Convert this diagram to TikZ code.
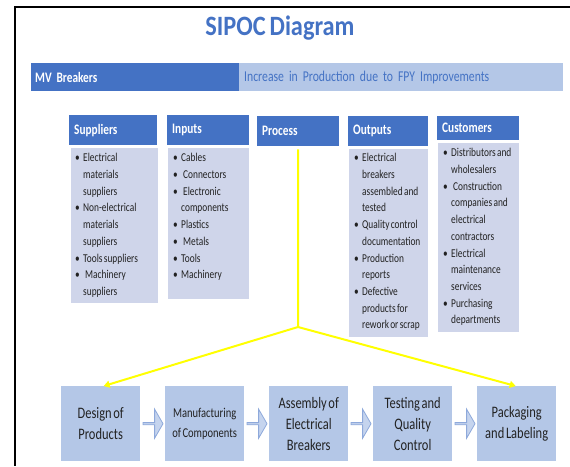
\documentclass[tikz,border=0pt]{standalone}
\usepackage{fontspec}
\setmainfont{Carlito}[FakeStretch=0.78, WordSpace={0.6,0.5,0.6}]
\newfontfamily\titlefont{Carlito}[FakeStretch=0.87, WordSpace={0.7,0.5,0.7}]
\usetikzlibrary{shapes.arrows,arrows.meta,calc}
\definecolor{hdblue}{HTML}{4472C4}
\definecolor{barlight}{HTML}{B4C7E7}
\definecolor{listbg}{HTML}{CFD5EA}
\definecolor{txt}{HTML}{222222}
\definecolor{arrowedge}{HTML}{8EA9DB}
\definecolor{arrowfill}{HTML}{C5D4EE}
\definecolor{flowyellow}{HTML}{FFFF00}

% bullet and continuation indent for the list columns
\newcommand{\bul}{\makebox[8pt][l]{\textbullet}}
\newcommand{\ind}{\hspace*{8pt}}

\begin{document}
\begin{tikzpicture}[x=1pt,y=-1pt,
  colhead/.style={fill=hdblue, text=white, font=\fontsize{14.5}{16}\selectfont\bfseries,
    anchor=north west, inner xsep=5pt, inner ysep=0pt, minimum height=30pt, align=left},
  listbox/.style={fill=listbg, draw=white, line width=0.8pt, anchor=north west,
    inner sep=0pt},
  listtext/.style={anchor=north west, inner sep=0pt, align=left, text=txt,
    font=\fontsize{12}{16.7}\selectfont},
  procbox/.style={fill=barlight, anchor=north west, inner sep=2pt, align=center,
    minimum width=79pt, minimum height=75pt, text=txt,
    font=\fontsize{16}{21}\selectfont},
  blockarrow/.style={single arrow, draw=arrowedge, fill=arrowfill, line width=0.8pt,
    inner sep=0pt, minimum height=20pt, minimum width=29pt,
    single arrow head extend=5pt, single arrow tip angle=120},
  yline/.style={draw=flowyellow, line width=2pt},
]
\useasboundingbox (0,0) rectangle (570,466);

% page frame
\draw[line width=1.5pt] (570,7) -- (15,7) -- (15,466);

% title
\node[font=\titlefont\fontsize{28}{30}\selectfont\bfseries, text=hdblue] (title) at (280,28) {SIPOC Diagram};

% project bar
\node[fill=hdblue, text=white, anchor=north west, inner xsep=4pt, inner ysep=0pt,
  minimum height=28pt, text width=200pt, align=left,
  font=\fontsize{14.5}{16}\selectfont\bfseries] (mv) at (31,63) {MV Breakers};
\node[fill=barlight, text=hdblue, anchor=north west, inner xsep=5pt, inner ysep=0pt,
  minimum height=28pt, text width=314pt, align=left,
  font=\fontsize{15}{16}\selectfont] (goal) at (239,63) {Increase in Production due to FPY Improvements};

% column headers
\node[colhead, text width=78pt] (sup) at (69,115) {Suppliers};
\node[colhead, text width=72pt] (inp) at (167,115) {Inputs};
\node[colhead, text width=72pt] (proc) at (257,116) {Process};
\node[colhead, text width=70pt] (outp) at (348,116) {Outputs};
\node[colhead, text width=72pt, minimum height=24pt] (cust) at (437,116) {Customers};

% column bodies
\node[listbox, minimum width=88pt, minimum height=156pt] (supb) at (70,147) {};
\node[listbox, minimum width=82pt, minimum height=152pt] (inpb) at (167,147) {};
\node[listbox, minimum width=80pt, minimum height=189pt] (outb) at (348,148) {};
\node[listbox, minimum width=82pt, minimum height=190pt] (cusb) at (437,142) {};

\node[listtext] (supl) at (75,150) {\strut\bul Electrical\\ \ind materials\\ \ind suppliers\\
  \bul Non-electrical\\ \ind materials\\ \ind suppliers\\ \bul Tools suppliers\\
  \bul\hspace{2pt}Machinery\\ \ind suppliers};
\node[listtext] (inpl) at (173,150) {\strut\bul Cables\\ \bul\hspace{2pt}Connectors\\
  \bul\hspace{2pt}Electronic\\ \ind components\\ \bul Plastics\\ \bul\hspace{2pt}Metals\\
  \bul Tools\\ \bul Machinery};
\node[listtext] (outl) at (354,150) {\strut\bul Electrical\\ \ind breakers\\ \ind assembled and\\
  \ind tested\\ \bul Quality control\\ \ind documentation\\ \bul Production\\ \ind reports\\
  \bul Defective\\ \ind products for\\ \ind rework or scrap};
\node[listtext] (cusl) at (443,145) {\strut\bul Distributors and\\ \ind wholesalers\\
  \bul\hspace{2pt}Construction\\ \ind companies and\\ \ind electrical\\ \ind contractors\\
  \bul Electrical\\ \ind maintenance\\ \ind services\\ \bul Purchasing\\ \ind departments};

% process steps
\node[procbox] (d1) at (61,386) {Design of\\Products};
\node[procbox, font=\fontsize{13.5}{20}\selectfont] (d2) at (165,386) {Manufacturing\\of Components};
\node[procbox] (d3) at (269,386) {Assembly of\\Electrical\\Breakers};
\node[procbox] (d4) at (373,386) {Testing and\\Quality\\Control};
\node[procbox] (d5) at (477,386) {Packaging\\and Labeling};

\node[blockarrow] (a1) at ($(d1.east)!0.5!(d2.west)$) {};
\node[blockarrow] (a2) at ($(d2.east)!0.5!(d3.west)$) {};
\node[blockarrow] (a3) at ($(d3.east)!0.5!(d4.west)$) {};
\node[blockarrow] (a4) at ($(d4.east)!0.5!(d5.west)$) {};

% process breakdown connectors
\coordinate (junc) at (298,327);
\draw[yline] ($(proc.south)+(0,3)$) -- (junc);
\draw[yline, -{Triangle[length=6pt,width=7pt]}] (junc) -- ($(d1.north)+(3,0)$);
\draw[yline, -{Triangle[length=6pt,width=7pt]}] (junc) -- ($(d5.north)+(-1,0)$);
\end{tikzpicture}
\end{document}
